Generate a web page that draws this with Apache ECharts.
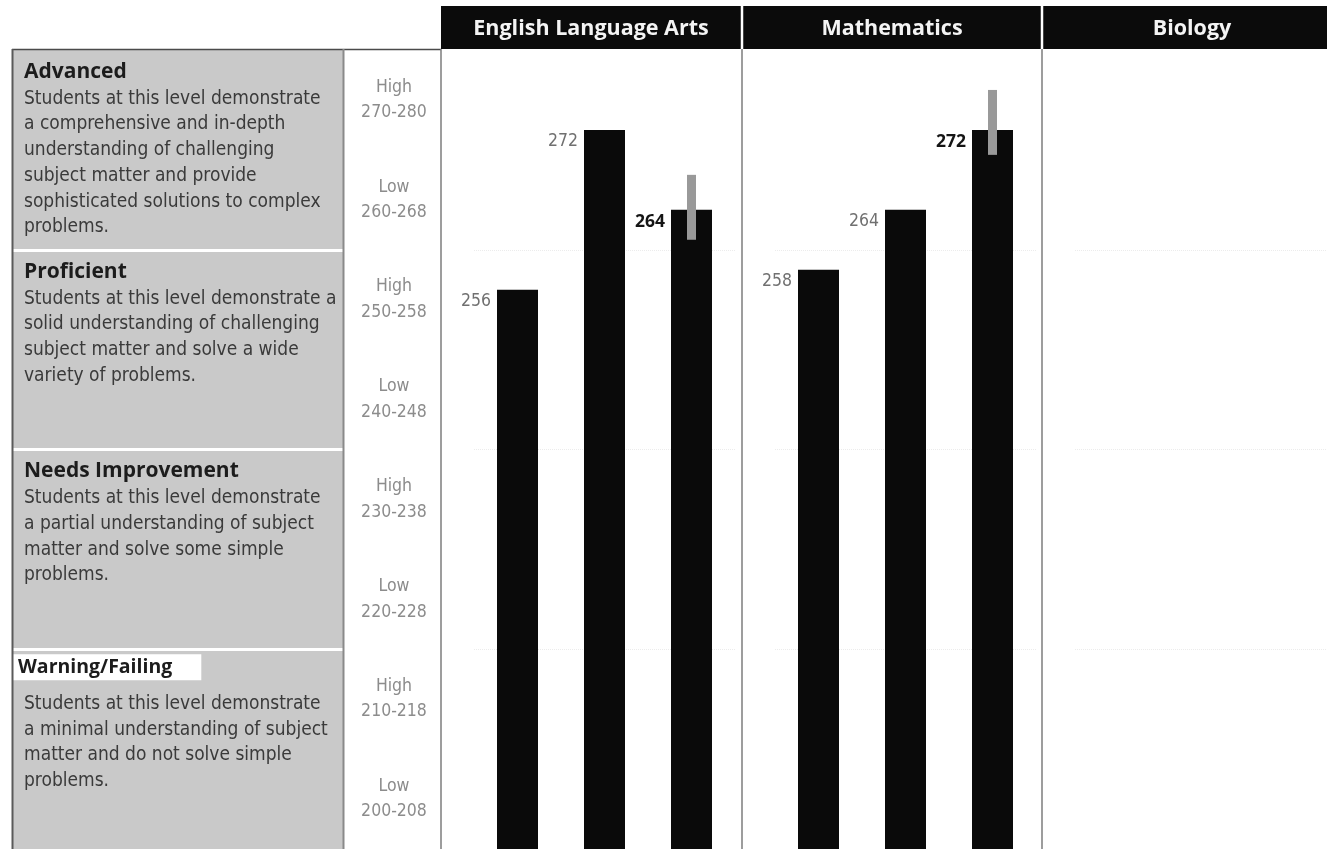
<!DOCTYPE html>
<html>
<head>
<meta charset="utf-8">
<script src="https://cdn.jsdelivr.net/npm/echarts@6/dist/echarts.min.js"></script>
<style>
html,body{margin:0;padding:0;background:#fff;}
#chart{width:1327px;height:849px;}
</style>
</head>
<body>
<div id="chart"></div>
<script>
// ---------- data ----------
const subjects = ['English Language Arts', 'Mathematics', 'Biology'];
const barSlots = ['1', '2', '3'];
const elaScores = [256, 272, 264];
const mathScores = [258, 264, 272];
const biologyScores = [];
const elaRange = [[2, 261, 267.5]];      // [slot index, low, high]
const mathRange = [[2, 269.5, 276]];
const biologyRange = [];
const highlightedSlot = 2;

const levelNames = ['Advanced', 'Proficient', 'Needs Improvement', 'Warning/Failing'];
const levelTops = [280, 260, 240, 220];
const levelBottoms = [260, 240, 220, 200];
const levelDescriptions = [
  'Students at this level demonstrate\na comprehensive and in-depth\nunderstanding of challenging\nsubject matter and provide\nsophisticated solutions to complex\nproblems.',
  'Students at this level demonstrate a\nsolid understanding of challenging\nsubject matter and solve a wide\nvariety of problems.',
  'Students at this level demonstrate\na partial understanding of subject\nmatter and solve some simple\nproblems.',
  'Students at this level demonstrate\na minimal understanding of subject\nmatter and do not solve simple\nproblems.'
];
const rangeTickValues = [275, 265, 255, 245, 235, 225, 215, 205];
const rangeTickLabels = ['High\n270-280', 'Low\n260-268', 'High\n250-258', 'Low\n240-248',
                         'High\n230-238', 'Low\n220-228', 'High\n210-218', 'Low\n200-208'];
const levelBoundaries = [260, 240, 220];

// ---------- layout / style ----------
const FONT = "'Liberation Sans Narrow', 'DejaVu Sans Condensed', 'Open Sans', sans-serif";
const BOLDFONT = "'Open Sans', 'Liberation Sans', sans-serif";
const panelLefts = [441, 742, 1042];
const panelWidth = 300;
const Y_MIN = 200, Y_MAX = 280;

const chart = echarts.init(document.getElementById('chart'), null, {renderer: 'canvas'});

const grids = [{left: 12, top: 50, width: 331, height: 800}];
panelLefts.forEach(pl => grids.push({left: pl + 33, top: 50, width: 261, height: 800}));

const xAxes = [{gridIndex: 0, type: 'value', min: 0, max: 1, show: false}];
const yAxes = [{
  gridIndex: 0, type: 'value', min: Y_MIN, max: Y_MAX, interval: 5, position: 'right',
  axisLine: {show: false}, axisTick: {show: false}, splitLine: {show: false},
  axisLabel: {
    show: true, margin: 51, align: 'center', color: '#8c8c8c', fontSize: 17.5,
    lineHeight: 25.5, fontFamily: FONT,
    formatter: v => { const i = rangeTickValues.indexOf(v); return i >= 0 ? rangeTickLabels[i] : ''; }
  }
}];
panelLefts.forEach((pl, i) => {
  xAxes.push({gridIndex: i + 1, type: 'category', data: barSlots, show: false});
  yAxes.push({gridIndex: i + 1, type: 'value', min: Y_MIN, max: Y_MAX, show: false});
});

const richStyles = {
  t: {fontSize: 21, fontWeight: 'bold', color: '#1c1c1c', lineHeight: 28, fontFamily: BOLDFONT},
  d: {fontSize: 19, color: '#3a3a3a', lineHeight: 25.7, fontFamily: FONT},
  w: {fontSize: 19.5, fontWeight: 'bold', color: '#1c1c1c', lineHeight: 30, fontFamily: BOLDFONT,
      backgroundColor: '#ffffff', padding: [3, 29, 3, 6]},
  s: {fontSize: 1, lineHeight: 9},
  d2: {fontSize: 19, color: '#3a3a3a', lineHeight: 25.7, fontFamily: FONT, padding: [0, 0, 0, 12]}
};

const levelAreas = levelNames.map((name, i) => {
  const last = i === levelNames.length - 1;
  const text = last
    ? '{w|' + name + '}\n{s| }\n{d2|' + levelDescriptions[i] + '}'
    : '{t|' + name + '}\n{d|' + levelDescriptions[i] + '}';
  return [
    {yAxis: levelTops[i], label: {show: true, position: last ? [0, 3] : [12, 8], formatter: text, rich: richStyles}},
    {yAxis: levelBottoms[i]}
  ];
});

const series = [{
  type: 'line', xAxisIndex: 0, yAxisIndex: 0, data: [], silent: true,
  markArea: {silent: true, itemStyle: {color: '#c9c9c9'}, data: levelAreas},
  markLine: {silent: true, symbol: 'none', label: {show: false},
    lineStyle: {color: '#ffffff', width: 3, type: 'solid'},
    data: levelBoundaries.map(v => ({yAxis: v}))}
}];

const allScores = [elaScores, mathScores, biologyScores];
const allRanges = [elaRange, mathRange, biologyRange];
subjects.forEach((name, i) => {
  series.push({
    name: name, type: 'bar', xAxisIndex: i + 1, yAxisIndex: i + 1, barWidth: 41,
    itemStyle: {color: '#0a0a0a'}, silent: true, clip: true,
    data: allScores[i].map((v, j) => ({
      value: v,
      label: {
        show: true, position: [-6, 12], align: 'right', verticalAlign: 'middle',
        fontSize: 17.5, fontFamily: j === highlightedSlot ? BOLDFONT : FONT,
        fontWeight: j === highlightedSlot ? 'bold' : 'normal',
        color: j === highlightedSlot ? '#151515' : '#707070'
      }
    })),
    markLine: {silent: true, symbol: 'none', label: {show: false}, z: 1,
      lineStyle: {color: '#ececec', width: 1, type: 'dotted'},
      data: levelBoundaries.map(v => ({yAxis: v}))},
    z: 2
  });
  series.push({
    type: 'custom', xAxisIndex: i + 1, yAxisIndex: i + 1, silent: true, z: 3,
    data: allRanges[i],
    renderItem: (params, api) => {
      const x = api.value(0);
      const top = api.coord([x, api.value(2)]);
      const bot = api.coord([x, api.value(1)]);
      return {type: 'rect', shape: {x: top[0] - 4.5, y: top[1], width: 9, height: bot[1] - top[1]},
              style: {fill: '#999999'}};
    }
  });
});

const graphics = [
  {type: 'rect', shape: {x: 441, y: 6, width: 886, height: 43}, style: {fill: '#0b0b0b'}, z: 10},
  {type: 'line', shape: {x1: 12, y1: 49.5, x2: 441, y2: 49.5}, style: {stroke: '#4a4a4a', lineWidth: 1.5}, z: 10},
  {type: 'line', shape: {x1: 12.5, y1: 49, x2: 12.5, y2: 849}, style: {stroke: '#5a5a5a', lineWidth: 2}, z: 10},
  {type: 'line', shape: {x1: 343.5, y1: 49, x2: 343.5, y2: 849}, style: {stroke: '#8a8a8a', lineWidth: 2}, z: 10}
];
panelLefts.forEach((pl, i) => {
  graphics.push({type: 'line', shape: {x1: pl, y1: 49, x2: pl, y2: 849}, style: {stroke: '#7d7d7d', lineWidth: 1.5}, z: 10});
  if (i > 0) graphics.push({type: 'line', shape: {x1: pl, y1: 6, x2: pl, y2: 49}, style: {stroke: '#ffffff', lineWidth: 2.5}, z: 11});
  graphics.push({type: 'text', x: pl + panelWidth / 2, y: 29, z: 12,
    style: {text: subjects[i], fill: '#f4f4f4', font: "bold 21.5px " + BOLDFONT, textAlign: 'center', textVerticalAlign: 'middle'}});
});

chart.setOption({
  animation: false,
  backgroundColor: '#ffffff',
  grid: grids, xAxis: xAxes, yAxis: yAxes, series: series, graphic: graphics
});
</script>
</body>
</html>
